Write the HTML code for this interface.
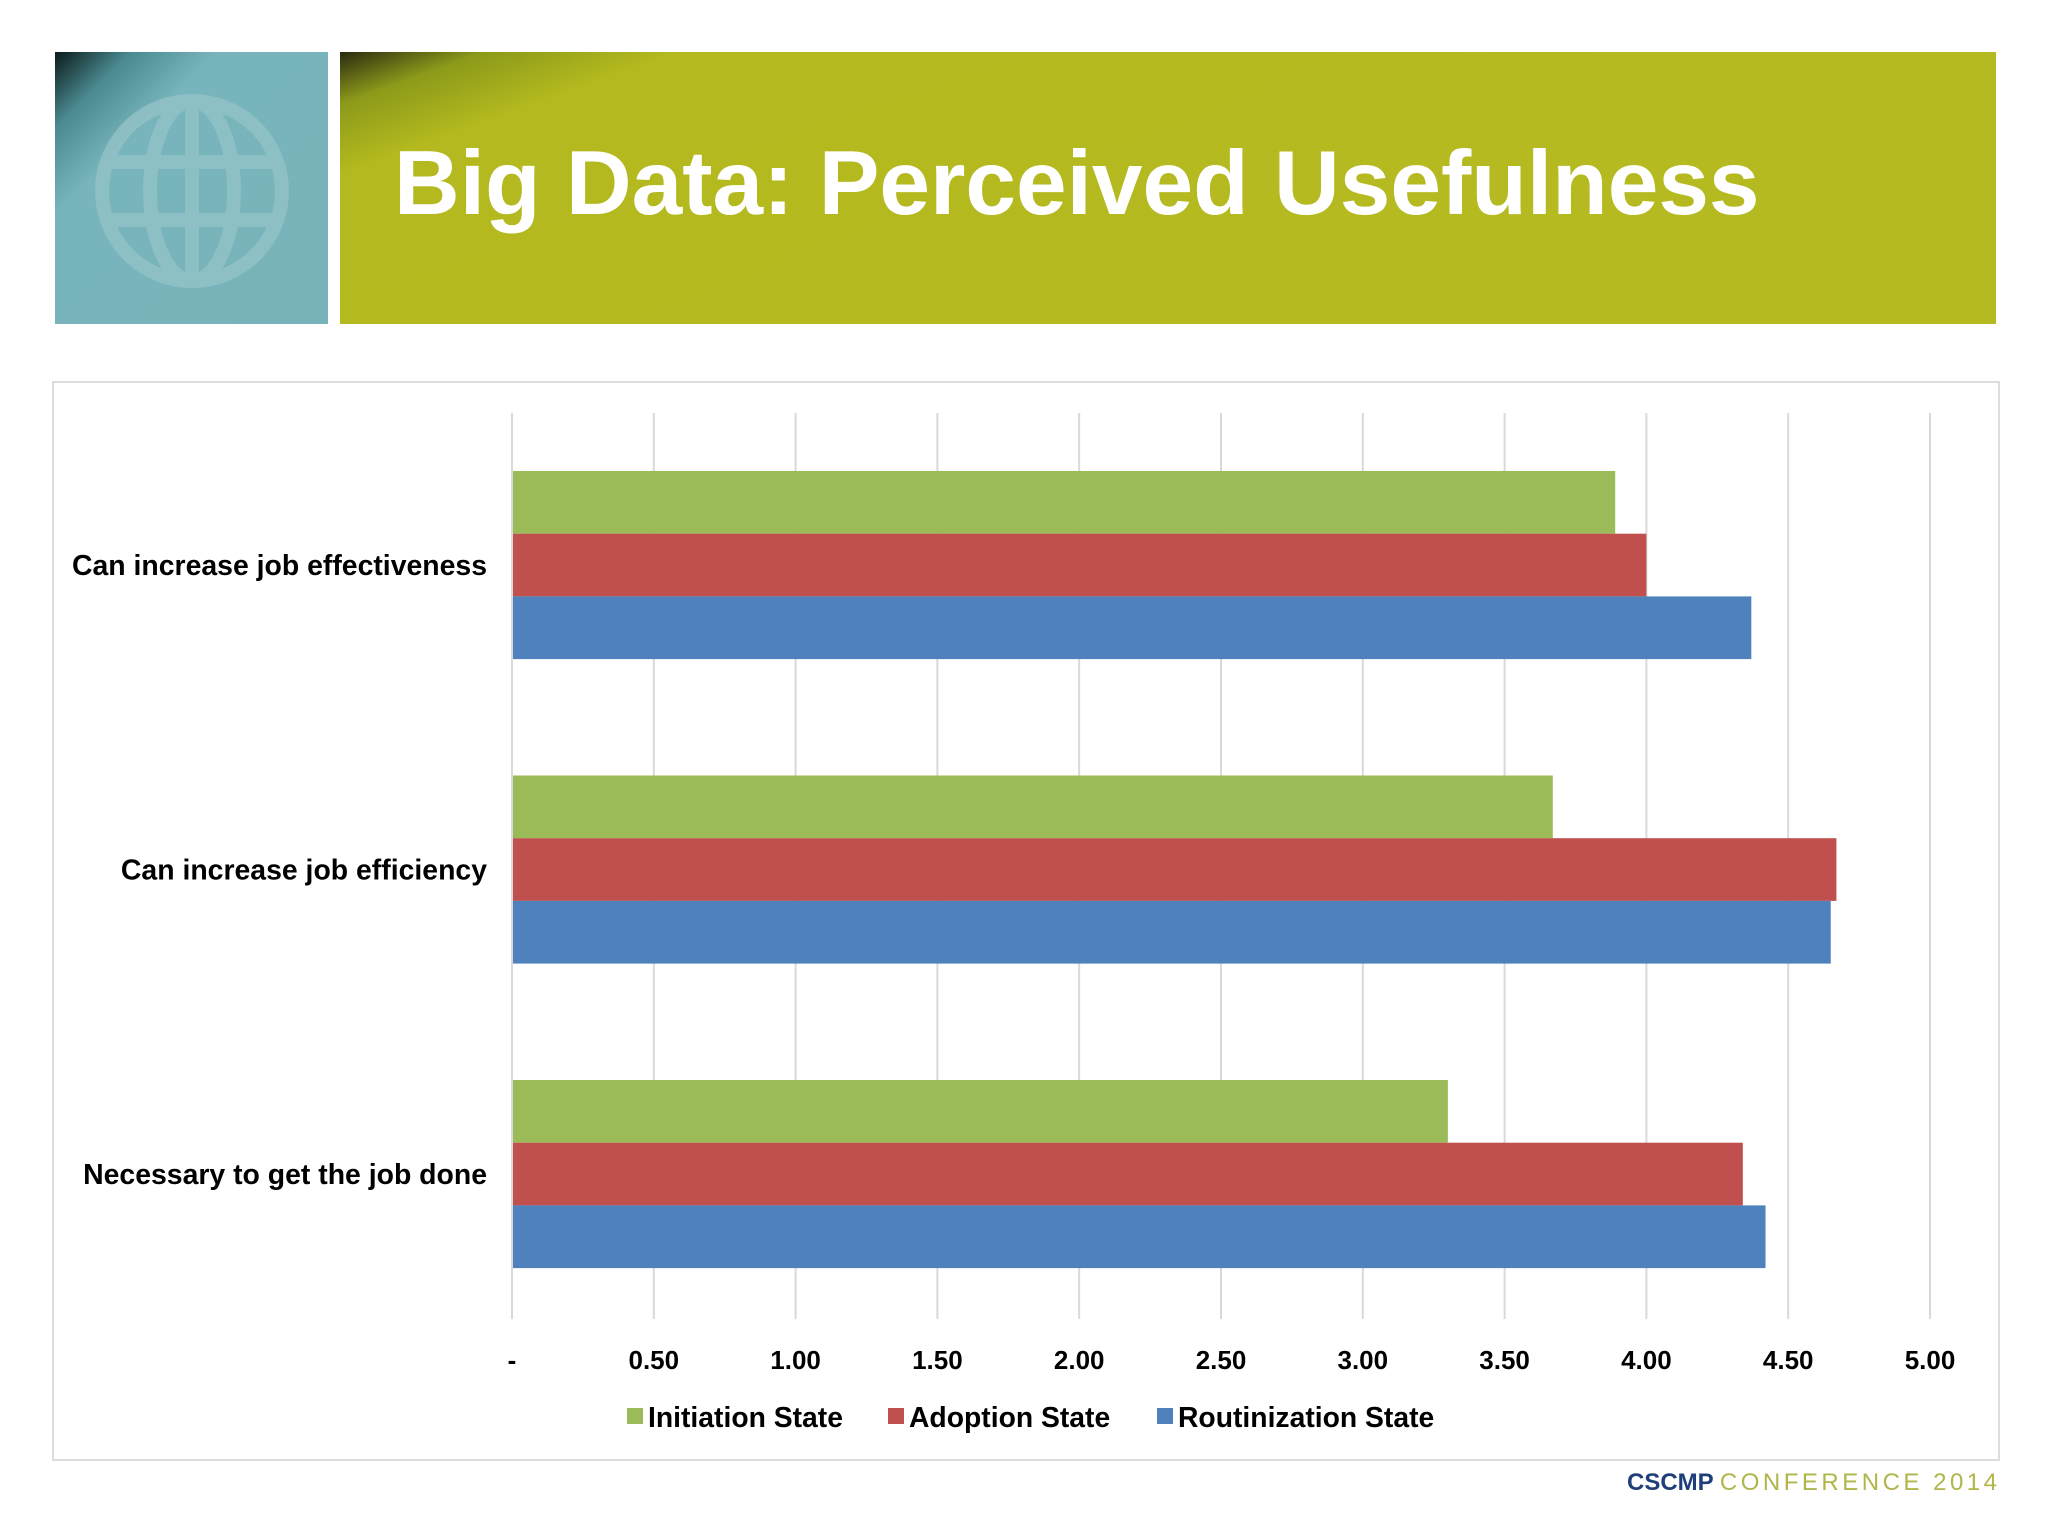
<!DOCTYPE html>
<html><head><meta charset="utf-8"><style>
body{margin:0;width:2048px;height:1536px;background:#fff;position:relative;overflow:hidden;font-family:"Liberation Sans",sans-serif}
.abs{position:absolute}
</style></head><body>
<div class="abs" style="left:55px;top:52px;width:273px;height:272px;background:linear-gradient(135deg,#0a1a1a 0%,#4a8a90 14%,#78b4bb 30%,#78b3ba 100%)">
<svg width="273" height="272"><g fill="none" stroke="#93c3c8" stroke-width="14" opacity="0.8"><circle cx="137" cy="139" r="90"/><ellipse cx="137" cy="139" rx="42" ry="90"/><line x1="137" y1="49" x2="137" y2="229"/><line x1="50" y1="110" x2="224" y2="110"/><line x1="50" y1="168" x2="224" y2="168"/></g></svg></div>
<div class="abs" style="left:340px;top:52px;width:1656px;height:272px;background:linear-gradient(160deg,#2a2a10 0%,#8c9a1a 6%,#b3b91e 14%,#b5ba20 100%)"></div>
<div class="abs" style="left:394px;top:132px;font-size:91px;font-weight:bold;color:#fff;white-space:nowrap">Big Data: Perceived Usefulness</div>
<div class="abs" style="left:52px;top:381px;width:1944px;height:1076px;border:2px solid #ddd"></div>
<div class="abs" style="left:1627px;top:1469px;font-size:24px;font-weight:bold;white-space:nowrap"><span style="color:#1f3f7a">CSCMP</span> <span style="color:#b2b54a;font-weight:normal;letter-spacing:3.5px">CONFERENCE 2014</span></div>
<svg class="abs" style="left:0;top:0" width="2048" height="1536" id="chart"></svg>
<script>
const categories=["Can increase job effectiveness","Can increase job efficiency","Necessary to get the job done"];
const initiation=[3.89,3.67,3.30];
const adoption=[4.00,4.67,4.34];
const routinization=[4.37,4.65,4.42];
const ticks=[0,0.5,1,1.5,2,2.5,3,3.5,4,4.5,5];
const tickLabels=["-","0.50","1.00","1.50","2.00","2.50","3.00","3.50","4.00","4.50","5.00"];
const seriesNames=["Initiation State","Adoption State","Routinization State"];
const colors=["#9bbb59","#c0504d","#4f81bd"];
const svg=document.getElementById('chart');const NS="http://www.w3.org/2000/svg";
const X=v=>512+v*283.6;
const bandTop=i=>471+i*304.5;
const bh=62.7;
function mk(t,a){const e=document.createElementNS(NS,t);for(const k in a)e.setAttribute(k,a[k]);svg.appendChild(e);return e;}
ticks.forEach((t,i)=>{
 const l=mk('line',{x1:X(t),x2:X(t),y1:413,y2:1319,stroke:'#d9d9d9','stroke-width':2});
 
 
 const tx=mk('text',{x:X(t),y:1369,'text-anchor':'middle','font-size':26,'font-weight':'bold',fill:'#000'});
 tx.textContent=tickLabels[i];
 
 
});
const all=[initiation,adoption,routinization];
categories.forEach((c,i)=>{
 all.forEach((s,j)=>{
  const r=mk('rect',{x:X(0),y:bandTop(i)+j*bh,width:X(s[i])-X(0),height:bh,fill:colors[j]});
  
  
 });
 const t=mk('text',{x:487,y:bandTop(i)+bh*1.5+10,'text-anchor':'end','font-size':28.4,'font-weight':'bold',fill:'#000'});
 t.textContent=c;
 
 
});
const lx=[627,888,1157];
seriesNames.forEach((n,j)=>{
 const r=mk('rect',{x:lx[j],y:1408,width:16,height:16,fill:colors[j]});
 
 
 const t=mk('text',{x:lx[j]+21,y:1427,'font-size':28.3,'font-weight':'bold',fill:'#000'});
 t.textContent=n;
 
 
});
const ax=mk('line',{x1:X(0),x2:X(0),y1:413,y2:1319,stroke:'#d9d9d9','stroke-width':2});


</script>
</body></html>
